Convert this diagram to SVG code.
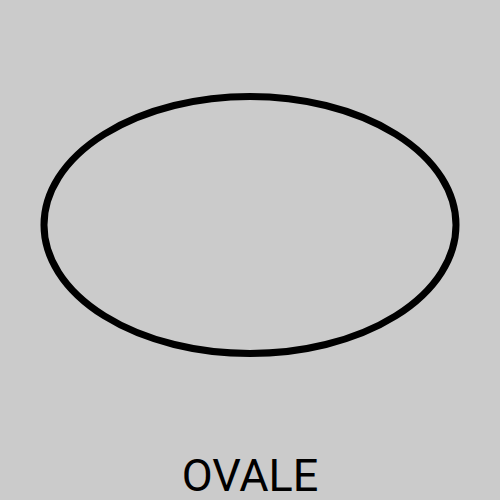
<svg xmlns="http://www.w3.org/2000/svg" width="500" height="500" viewBox="0 0 500 500">
<style>
.shape{fill:none;stroke:#000;stroke-width:7}
.label{font-family:Roboto,"Liberation Sans",sans-serif;font-size:45px;fill:#000;text-anchor:middle}
</style>
<rect width="500" height="500" fill="#cbcbcb"/>
<g id="ovale">
<ellipse class="shape" cx="250" cy="225" rx="206" ry="128.5"/>
</g>
<text class="label" x="250" y="491">OVALE</text>
</svg>
